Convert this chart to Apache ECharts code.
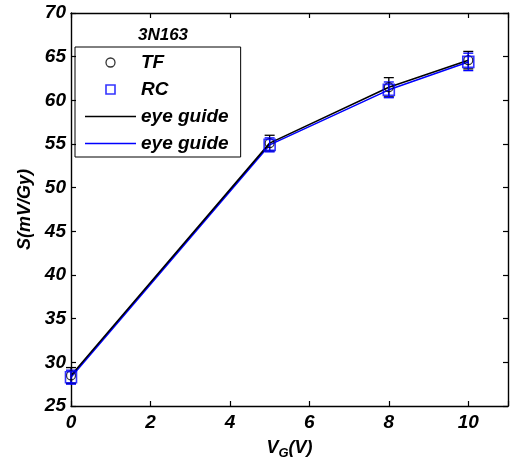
<!DOCTYPE html>
<html>
<head>
<meta charset="utf-8">
<script src="https://cdn.jsdelivr.net/npm/echarts@6/dist/echarts.min.js"></script>
<style>
    html, body { margin: 0; padding: 0; background: #fff; }
    #chart { width: 510px; height: 464px; }
</style>
</head>
<body>
<div id="chart"></div>
<script>
    // data
    var vg = [0, 5, 8, 10];
    var tfVals = [28.5, 55.1, 61.5, 64.6];
    var rcVals = [28.3, 54.9, 61.2, 64.4];
    var tfErr = [0.9, 0.9, 1.1, 1.0];
    var rcErr = [0.8, 0.8, 0.9, 1.0];
    var xTicks = [0, 2, 4, 6, 8, 10];
    var yTicks = [25, 30, 35, 40, 45, 50, 55, 60, 65, 70];

    var font = 'Liberation Sans';

    function pairs(xs, ys) {
        var out = [];
        for (var i = 0; i < xs.length; i++) out.push([xs[i], ys[i]]);
        return out;
    }

    function errData(xs, ys, es) {
        var out = [];
        for (var i = 0; i < xs.length; i++) out.push([xs[i], ys[i] - es[i], ys[i] + es[i]]);
        return out;
    }

    //误差棒
    function errRender(color) {
        return function (params, api) {
            var lo = api.coord([api.value(0), api.value(1)]);
            var hi = api.coord([api.value(0), api.value(2)]);
            var w = 5;
            var st = { stroke: color, lineWidth: 1.3 };
            return {
                type: 'group',
                children: [
                    { type: 'line', shape: { x1: lo[0], y1: lo[1], x2: hi[0], y2: hi[1] }, style: st },
                    { type: 'line', shape: { x1: lo[0] - w, y1: lo[1], x2: lo[0] + w, y2: lo[1] }, style: st },
                    { type: 'line', shape: { x1: hi[0] - w, y1: hi[1], x2: hi[0] + w, y2: hi[1] }, style: st }
                ]
            };
        };
    }

    var labelStyle = {
        fontFamily: font, fontSize: 19, fontWeight: 'bold', fontStyle: 'italic', color: '#000'
    };
    var tickStyle = { show: true, inside: true, length: 5, lineStyle: { color: '#000', width: 1.2 } };
    var lineStyle = { show: true, onZero: false, lineStyle: { color: '#000', width: 1.4 } };

    var myChart = echarts.init(document.getElementById('chart'));

    var option = {
        backgroundColor: '#fff',
        animation: false,
        title: {
            text: '3N163',
            left: 158,
            top: 22,
            textAlign: 'center',
            textStyle: { fontFamily: font, fontSize: 17, fontWeight: 'bold', fontStyle: 'italic', color: '#000' }
        },
        legend: {
            orient: 'vertical',
            left: 75,
            top: 47,
            padding: [6, 12, 4, 10],
            borderColor: '#000',
            borderWidth: 1,
            itemWidth: 51,
            itemHeight: 9,
            itemGap: 8,
            data: [
                { name: 'TF', icon: 'circle', itemStyle: { color: 'rgba(0,0,0,0)', borderColor: '#000', borderWidth: 1.3 } },
                { name: 'RC', icon: 'path://M0,0L10,0L10,10L0,10Z', itemStyle: { color: 'rgba(0,0,0,0)', borderColor: '#0000ff', borderWidth: 1.6 } },
                { name: 'guideTF', icon: 'path://M0,0L50,0L50,1.4L0,1.4Z', itemStyle: { color: '#000' } },
                { name: 'guideRC', icon: 'path://M0,0L50,0L50,1.4L0,1.4Z', itemStyle: { color: '#0000ff' } }
            ],
            formatter: function (name) {
                return name.indexOf('guide') === 0 ? 'eye guide' : name;
            },
            textStyle: { fontFamily: font, fontSize: 19, fontWeight: 'bold', fontStyle: 'italic', color: '#000' },
            selectedMode: false
        },
        grid: { left: 71, right: 2, top: 13, bottom: 58, containLabel: false, outerBoundsMode: 'none' },
        xAxis: [{
            type: 'value',
            min: 0,
            max: 11,
            interval: 2,
            axisLine: lineStyle,
            axisTick: tickStyle,
            splitLine: { show: false },
            axisLabel: Object.assign({
                margin: 7,
                formatter: function (v) { return xTicks.indexOf(v) >= 0 ? String(v) : ''; }
            }, labelStyle),
            name: '{v|V}{s|G}{v|(V)}',
            nameLocation: 'middle',
            nameGap: 31,
            nameTextStyle: {
                rich: {
                    v: { fontFamily: font, fontSize: 18, fontWeight: 'bold', fontStyle: 'italic', color: '#000' },
                    s: { fontFamily: font, fontSize: 13, fontWeight: 'bold', fontStyle: 'italic', color: '#000', verticalAlign: 'bottom', padding: [10, 0, 0, 0] }
                }
            }
        }, {
            type: 'value',
            position: 'top',
            min: 0,
            max: 11,
            interval: 2,
            axisLine: lineStyle,
            axisTick: tickStyle,
            axisLabel: { show: false },
            splitLine: { show: false }
        }],
        yAxis: [{
            type: 'value',
            min: 25,
            max: 70,
            interval: 5,
            axisLine: lineStyle,
            axisTick: tickStyle,
            splitLine: { show: false },
            axisLabel: Object.assign({
                margin: 5,
                formatter: function (v) { return yTicks.indexOf(v) >= 0 ? String(v) : ''; }
            }, labelStyle),
            name: 'S(mV/Gy)',
            nameLocation: 'middle',
            nameGap: 37,
            nameTextStyle: { fontFamily: font, fontSize: 18, fontWeight: 'bold', fontStyle: 'italic', color: '#000' }
        }, {
            type: 'value',
            position: 'right',
            min: 25,
            max: 70,
            interval: 5,
            axisLine: lineStyle,
            axisTick: tickStyle,
            axisLabel: { show: false },
            splitLine: { show: false }
        }],
        series: [{
            name: 'guideTF',
            type: 'line',
            data: pairs(vg, tfVals),
            symbol: 'none',
            lineStyle: { color: '#000', width: 1.6 },
            itemStyle: { color: '#000' },
            z: 3
        }, {
            name: 'guideRC',
            type: 'line',
            data: pairs(vg, rcVals),
            symbol: 'none',
            lineStyle: { color: '#0000ff', width: 1.6 },
            itemStyle: { color: '#0000ff' },
            z: 2
        }, {
            name: 'errTF',
            type: 'custom',
            renderItem: errRender('#000'),
            data: errData(vg, tfVals, tfErr),
            encode: { x: 0, y: [1, 2] },
            z: 4
        }, {
            name: 'errRC',
            type: 'custom',
            renderItem: errRender('#0000ff'),
            data: errData(vg, rcVals, rcErr),
            encode: { x: 0, y: [1, 2] },
            z: 4
        }, {
            name: 'TF',
            type: 'scatter',
            data: pairs(vg, tfVals),
            symbol: 'circle',
            symbolSize: 9,
            itemStyle: { color: 'rgba(0,0,0,0)', borderColor: '#000', borderWidth: 1.3 },
            z: 5
        }, {
            name: 'RC',
            type: 'scatter',
            data: pairs(vg, rcVals),
            symbol: 'rect',
            symbolSize: 11,
            itemStyle: { color: 'rgba(0,0,0,0)', borderColor: '#0000ff', borderWidth: 1.6 },
            z: 5
        }]
    };

    myChart.setOption(option);
</script>
</body>
</html>
